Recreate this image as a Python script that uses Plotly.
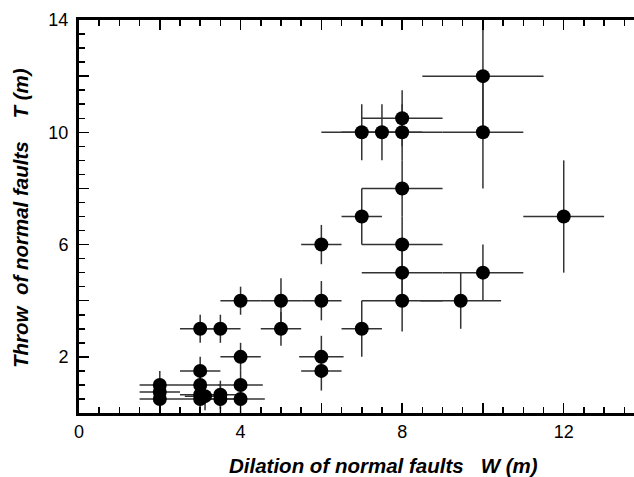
import plotly.graph_objects as go

# Dilation W (m), throw T (m), and their error half-widths
dilation = [2, 2, 2, 3, 3, 3, 3.12, 3, 3.5, 3.5, 4, 4, 4,
            3, 3.5, 4, 5, 5, 6, 6, 6, 6,
            7, 7, 7, 7.5, 8, 8, 8, 8, 8, 8,
            9.45, 10, 10, 10, 12]
throw = [1.0, 0.75, 0.5, 1.5, 1.0, 0.65, 0.6, 0.5, 0.65, 0.5, 1.0, 0.5, 2.0,
         3.0, 3.0, 4.0, 4.0, 3.0, 6.0, 4.0, 2.0, 1.5,
         3.0, 7.0, 10.0, 10.0, 10.5, 10.0, 8.0, 6.0, 5.0, 4.0,
         4.0, 5.0, 10.0, 12.0, 7.0]
dilation_err = [0.5, 0.5, 0.5, 0.5, 0.5, 0.5, 0.5, 0.5, 0.5, 0.5, 0.55, 0.6, 0.5,
                0.5, 0.5, 0.5, 0.5, 0.5, 0.5, 0.5, 0.55, 0.5,
                0.5, 0.5, 1.0, 1.0, 1.0, 1.0, 1.0, 1.0, 1.0, 1.0,
                1.0, 1.0, 1.0, 1.5, 1.0]
throw_err = [0.5, 0.5, 0.5, 0.5, 0.5, 0.5, 0.5, 0.5, 0.5, 0.5, 0.5, 0.5, 0.5,
             0.5, 0.5, 0.5, 0.8, 0.6, 0.7, 0.7, 0.75, 0.7,
             1.0, 1.0, 1.0, 1.0, 1.0, 1.0, 1.0, 1.0, 1.0, 1.1,
             1.0, 1.0, 2.0, 2.0, 2.0]

x_tickvals = [0, 2, 4, 6, 8, 10, 12]
x_ticktext = ["0", "", "4", "", "8", "", "12"]
y_tickvals = [0, 2, 4, 6, 8, 10, 12, 14]
y_ticktext = ["", "2", "", "6", "", "10", "", "14"]

x_title = "Dilation of normal faults\u00a0\u00a0\u00a0W (m)"
y_title = "Throw\u00a0\u00a0of normal faults\u00a0\u00a0\u00a0\u00a0T (m)"

fig = go.Figure()
fig.add_trace(go.Scatter(
    x=dilation, y=throw, mode="markers",
    marker=dict(color="black", size=14, line=dict(width=0)),
    error_x=dict(type="data", array=dilation_err, color="#333333", thickness=1.5, width=0),
    error_y=dict(type="data", array=throw_err, color="#333333", thickness=1.5, width=0),
    showlegend=False, hoverinfo="skip",
))

tickfont = dict(family="Liberation Sans, Arial, sans-serif", size=18, color="black")

fig.update_xaxes(
    range=[0, 13.74], showgrid=False, zeroline=False,
    showline=True, linewidth=3, linecolor="black", mirror="allticks",
    ticks="inside", ticklen=10, tickwidth=1.5, tickcolor="black",
    tickvals=x_tickvals, ticktext=x_ticktext, tickfont=tickfont,
    ticklabelstandoff=0,
    minor=dict(dtick=0.5, ticks="inside", ticklen=6, tickwidth=1.5, tickcolor="black"),
)
fig.update_yaxes(
    range=[0, 14], showgrid=False, zeroline=False,
    showline=True, linewidth=3, linecolor="black", mirror=False,
    ticks="inside", ticklen=10, tickwidth=1.5, tickcolor="black",
    tickvals=y_tickvals, ticktext=y_ticktext, tickfont=tickfont,
    ticklabelstandoff=4,
    minor=dict(dtick=0.5, ticks="inside", ticklen=6, tickwidth=1.5, tickcolor="black"),
)

title_font = dict(family="Liberation Sans, Arial, sans-serif", size=20.5, color="black")
fig.add_annotation(
    text="<b><i>" + x_title + "</i></b>", xref="paper", yref="paper",
    x=(383 - 79) / 555, y=(413 - 465) / 393, xanchor="center", yanchor="middle",
    showarrow=False, font=title_font,
)
fig.add_annotation(
    text="<b><i>" + y_title + "</i></b>", xref="paper", yref="paper",
    x=(21 - 79) / 555, y=(413 - 218) / 393, xanchor="center", yanchor="middle",
    textangle=-90, showarrow=False, font=title_font,
)

fig.update_layout(
    width=634, height=477,
    margin=dict(l=79, r=0, t=20, b=64, pad=0),
    plot_bgcolor="white", paper_bgcolor="white",
    hovermode=False,
)

fig.write_html(
    "out.html",
    config={"displayModeBar": False, "staticPlot": True},
    post_script="document.body.style.margin='0';document.body.style.overflow='hidden';",
)
